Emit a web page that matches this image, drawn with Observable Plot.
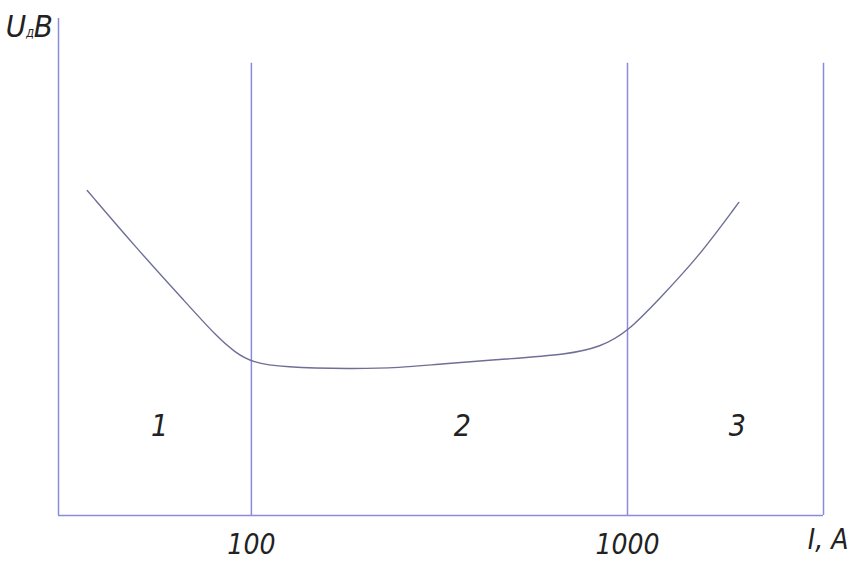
<!DOCTYPE html>
<html>
<head>
<meta charset="utf-8">
<script src="https://cdn.jsdelivr.net/npm/d3@7"></script>
<script src="https://cdn.jsdelivr.net/npm/@observablehq/plot@0.6"></script>
<style>
  html, body { margin: 0; padding: 0; background: #fff; }
  #chart { width: 850px; height: 562px; }
</style>
</head>
<body>
<div id="chart"></div>
<script>
// Arc voltage vs current (log current axis), three regions of the characteristic
const currentA = [36.6, 49.6, 67.4, 81.1, 90.6, 100.4, 121.7, 183.3, 249, 318, 480, 692, 848, 1000, 1225, 1532, 1977];
const voltageU = [65.4, 53.7, 42.6, 35.9, 32.8, 30.8, 29.8, 29.5, 29.7, 30.5, 31.5, 32.4, 33.9, 36.9, 43.9, 51.7, 63.0];

// Region boundaries (A) and the right edge of the diagram
const boundaries = [100, 1000];
const xDomain = [30.7, 3320];
const yDomain = [0, 100];
const frameTop = 91;

// Region numbers and where they sit
const regionNames = ["1", "2", "3"];
const regionI = [57, 364, 1960];
const regionU = [18, 18, 18];

const xTicks = [100, 1000];
const xLabel = "I, A";

const curve = currentA.map((I, i) => ({I, U: voltageU[i]}));
const regions = regionNames.map((name, i) => ({name, I: regionI[i], U: regionU[i]}));

const axisColor = "#8a8ade";
const font = "'Liberation Sans Narrow', 'DejaVu Sans Condensed', 'Open Sans', 'Liberation Sans', sans-serif";

const plot = Plot.plot({
  width: 850,
  height: 562,
  marginLeft: 58,
  marginRight: 27,
  marginTop: 18,
  marginBottom: 47,
  x: {type: "log", domain: xDomain},
  y: {domain: yDomain, axis: null},
  style: {fontFamily: font, fontStyle: "italic", fontWeight: 300, fontSize: "28px", color: "#222", background: "#fff"},
  marks: [
    // axes and region boundaries
    Plot.ruleX([xDomain[0]], {stroke: axisColor, strokeWidth: 1.5}),
    Plot.ruleY([yDomain[0]], {stroke: axisColor, strokeWidth: 1.5}),
    Plot.ruleX([...boundaries, xDomain[1]], {y1: yDomain[0], y2: frameTop, stroke: axisColor, strokeWidth: 1.5}),
    // characteristic curve
    Plot.line(curve, {x: "I", y: "U", curve: "basis", stroke: "#6e6e96", strokeWidth: 1.4}),
    // region numbers
    Plot.text(regions, {x: "I", y: "U", text: "name", fontSize: 30, fill: "#222"}),
    // tick labels
    Plot.axisX({ticks: xTicks, tickSize: 0, tickPadding: 19, tickFormat: d => String(d), label: null, fill: "#222"}),
    // current axis label
    Plot.text([xLabel], {frameAnchor: "bottom-right", textAnchor: "end", dx: 25, dy: 33, fill: "#222"})
  ]
});

document.getElementById("chart").appendChild(plot);

// voltage axis label with subscript
const svg = d3.select(plot);
const yl = svg.append("text")
  .attr("x", 53).attr("y", 37)
  .attr("text-anchor", "end")
  .attr("fill", "#222")
  .style("font-family", font)
  .style("font-style", "italic")
  .style("font-weight", 300)
  .style("font-size", "31px");
yl.append("tspan").text("U");
yl.append("tspan").attr("font-size", "11px").text("Д");
yl.append("tspan").text("B");
</script>
</body>
</html>
